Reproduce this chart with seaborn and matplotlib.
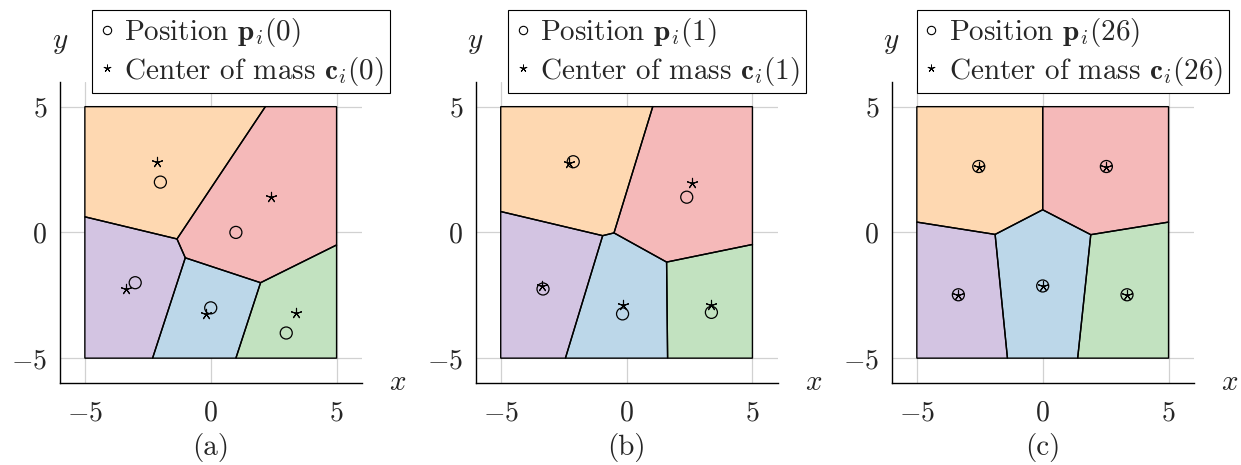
import matplotlib
matplotlib.use("Agg")
import matplotlib.pyplot as plt
import seaborn as sns
import pandas as pd
from matplotlib.lines import Line2D

# ---------------- data ----------------
panel_captions = ["(a)", "(b)", "(c)"]
iterations = [0, 1, 26]
# fill colours of the cells (orange, red, purple, blue, green)
cell_colors = ["#FED8B1", "#F5B9B9", "#D3C4E2", "#BCD7E9", "#C2E2C0"]

# Voronoi cells (orange, red, purple, blue, green)
cells_a = [
    [(-5, 5), (2.17, 5), (-1.34, -0.26), (-5, 0.62)],
    [(2.17, 5), (5, 5), (5, -0.50), (1.98, -2.0), (-1.01, -1.01), (-1.34, -0.26)],
    [(-5, 0.62), (-1.34, -0.26), (-1.01, -1.01), (-2.31, -5), (-5, -5)],
    [(-1.01, -1.01), (1.98, -2.0), (1.0, -5), (-2.31, -5)],
    [(1.98, -2.0), (5, -0.50), (5, -5), (1.0, -5)],
]
cells_b = [
    [(-5, 5), (1.04, 5), (-0.50, -0.02), (-0.95, -0.13), (-5, 0.83)],
    [(1.04, 5), (5, 5), (5, -0.48), (1.59, -1.18), (-0.50, -0.02)],
    [(-5, 0.83), (-0.95, -0.13), (-2.43, -5), (-5, -5)],
    [(-0.95, -0.13), (-0.50, -0.02), (1.59, -1.18), (1.63, -5), (-2.43, -5)],
    [(1.59, -1.18), (5, -0.48), (5, -5), (1.63, -5)],
]
cells_c = [
    [(-5, 5), (0, 5), (0, 0.90), (-1.89, -0.08), (-5, 0.41)],
    [(0, 5), (5, 5), (5, 0.41), (1.91, -0.09), (0, 0.90)],
    [(-5, 0.41), (-1.89, -0.08), (-1.40, -5), (-5, -5)],
    [(-1.89, -0.08), (0, 0.90), (1.91, -0.09), (1.39, -5), (-1.40, -5)],
    [(1.91, -0.09), (5, 0.41), (5, -5), (1.39, -5)],
]

# agent positions p_i and centers of mass c_i
pos_a_x = [-2.0, 1.0, -3.0, 0.0, 3.0]
pos_a_y = [2.0, 0.0, -2.0, -3.0, -4.0]
com_a_x = [-2.12, 2.41, -3.36, -0.19, 3.37]
com_a_y = [2.79, 1.39, -2.25, -3.24, -3.22]

pos_b_x = [-2.12, 2.39, -3.32, -0.16, 3.37]
pos_b_y = [2.81, 1.40, -2.25, -3.24, -3.18]
com_b_x = [-2.29, 2.59, -3.36, -0.16, 3.35]
com_b_y = [2.75, 1.96, -2.12, -2.89, -2.89]

pos_c_x = [-2.54, 2.53, -3.35, 0.0, 3.35]
pos_c_y = [2.62, 2.62, -2.48, -2.13, -2.48]
com_c_x = [-2.54, 2.53, -3.35, 0.0, 3.35]
com_c_y = [2.62, 2.62, -2.48, -2.13, -2.48]

ticks = [-5, 0, 5]

panels = [
    (cells_a, pos_a_x, pos_a_y, com_a_x, com_a_y),
    (cells_b, pos_b_x, pos_b_y, com_b_x, com_b_y),
    (cells_c, pos_c_x, pos_c_y, com_c_x, com_c_y),
]

# ---------------- style ----------------
sns.set_style("white")
plt.rcParams["font.family"] = ["cmr10", "DejaVu Serif"]
plt.rcParams["mathtext.fontset"] = "cm"
plt.rcParams["axes.formatter.use_mathtext"] = True
plt.rcParams["axes.unicode_minus"] = True

FS_TICK = 20
FS_TEXT = 21

fig = plt.figure(figsize=(12.41, 4.65), dpi=100)
lefts = [0.0481, 0.3832, 0.7185]
W, H, B = 0.2434, 0.649, 0.1757

STAR = (5, 2, 0)

for k, (cells, px, py, cx, cy) in enumerate(panels):
    ax = fig.add_axes([lefts[k], B, W, H])
    ax.set_xlim(-6, 6)
    ax.set_ylim(-6, 6)
    ax.set_xticks(ticks)
    ax.set_yticks(ticks)
    ax.grid(True, color="black", alpha=0.18, lw=0.9, zorder=1.5)
    for cell, col in zip(cells, cell_colors):
        xs = [v[0] for v in cell]
        ys = [v[1] for v in cell]
        ax.fill(xs, ys, color=col, lw=0, zorder=1)
        ax.fill(xs, ys, facecolor="none", edgecolor="black", lw=1.0, zorder=2)

    df_p = pd.DataFrame({"x": px, "y": py})
    df_c = pd.DataFrame({"x": cx, "y": cy})
    sns.scatterplot(data=df_p, x="x", y="y", ax=ax, marker="o", s=75,
                    facecolors="none", edgecolor="black", linewidth=0.9,
                    zorder=3, legend=False)
    sns.scatterplot(data=df_c, x="x", y="y", ax=ax, marker=STAR, s=55,
                    color="black", linewidth=0.8, zorder=4, legend=False)

    for side in ["top", "right"]:
        ax.spines[side].set_visible(False)
    for side in ["left", "bottom"]:
        ax.spines[side].set_color("black")
        ax.spines[side].set_linewidth(1.0)
    ax.tick_params(length=0, labelsize=FS_TICK, pad=9)
    ax.tick_params(axis="x", pad=12)

    ax.set_xlabel(r"$x$", fontsize=FS_TEXT, va="center", ha="center")
    ax.xaxis.set_label_coords(1.118, 0.0)
    ax.set_ylabel(r"$y$", fontsize=FS_TEXT, rotation=0, va="center", ha="center")
    ax.yaxis.set_label_coords(0.0, 1.128)

    ax.text(0.5, -0.214, panel_captions[k], transform=ax.transAxes,
            fontsize=FS_TEXT, ha="center", va="center")

    it = iterations[k]
    handles = [
        Line2D([], [], ls="none", marker="o", markersize=6, markerfacecolor="none",
               markeredgecolor="black", markeredgewidth=0.8),
        Line2D([], [], ls="none", marker=STAR, markersize=5.5, color="black",
               markeredgewidth=0.7),
    ]
    labels = [
        r"Position $\mathbf{p}_i(%d)$" % it,
        r"Center of mass $\mathbf{c}_i(%d)$" % it,
    ]
    leg = ax.legend(handles, labels, loc="upper center",
                    bbox_to_anchor=(0.6, 1.237), fontsize=FS_TEXT,
                    frameon=True, fancybox=False, framealpha=1,
                    edgecolor="black", handlelength=0.6, handletextpad=0.3,
                    borderpad=0.2, labelspacing=0.2, borderaxespad=0)
    leg.get_frame().set_linewidth(0.8)

fig.savefig("out.png", dpi=100)
